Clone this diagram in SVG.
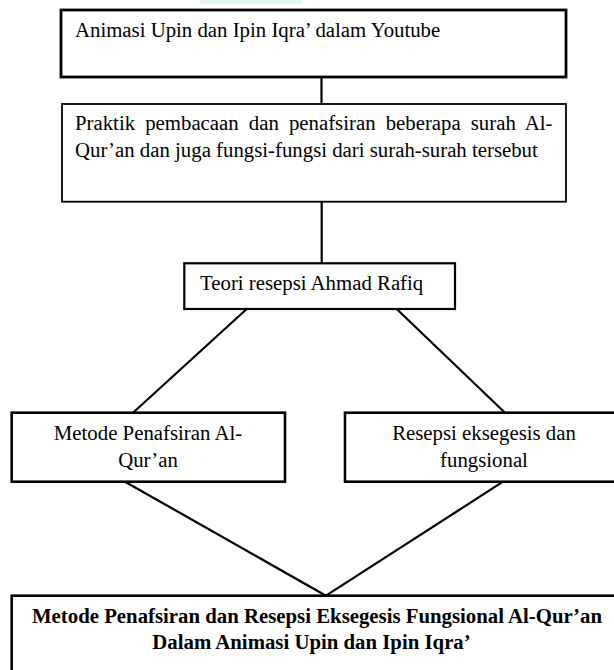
<svg xmlns="http://www.w3.org/2000/svg" width="614" height="670" viewBox="0 0 614 670">
<style>
.box{fill:#fff;stroke:#000;stroke-width:2.2}
.t{font-family:"Liberation Serif","Times New Roman",serif;font-size:20.8px;fill:#000}
.c{text-anchor:middle}
.b{font-weight:bold}
.conn line{stroke:#000;stroke-width:2.2;fill:none}
</style>
<rect x="200" y="0" width="103" height="4" fill="#e2f6f2"/>
<g class="conn" id="connectors">
<line x1="321.5" y1="77" x2="321.5" y2="104"/>
<line x1="321.7" y1="201.7" x2="321.7" y2="263.3"/>
<line x1="246.7" y1="309" x2="133" y2="412.7"/>
<line x1="396.7" y1="309" x2="505" y2="412.7"/>
<line x1="125" y1="481.7" x2="326" y2="595.7"/>
<line x1="503" y1="481.7" x2="326" y2="595.7"/>
</g>
<g id="node-animasi">
<rect class="box" x="61" y="10" width="505" height="67" style="stroke-width:2.8"/>
<text class="t" x="75" y="37">Animasi Upin dan Ipin Iqra’ dalam Youtube</text>
</g>
<g id="node-praktik">
<rect class="box" x="62" y="104" width="504" height="97.7" style="stroke-width:1.8"/>
<text class="t" x="75" y="130" word-spacing="4.9">Praktik pembacaan dan penafsiran beberapa surah Al-</text>
<text class="t" x="75" y="157">Qur’an dan juga fungsi-fungsi dari surah-surah tersebut</text>
</g>
<g id="node-teori">
<rect class="box" x="184.3" y="263.3" width="270.7" height="45.7"/>
<text class="t" x="200" y="290">Teori resepsi Ahmad Rafiq</text>
</g>
<g id="node-metode">
<rect class="box" x="11.7" y="412.7" width="273.3" height="69" style="stroke-width:2.6"/>
<text class="t c" x="148" y="440">Metode Penafsiran Al-</text>
<text class="t c" x="148" y="467">Qur’an</text>
</g>
<g id="node-resepsi">
<rect class="box" x="345" y="412.7" width="278" height="69" style="stroke-width:2.6"/>
<text class="t c" x="484" y="440">Resepsi eksegesis dan</text>
<text class="t c" x="484" y="467">fungsional</text>
</g>
<g id="node-hasil">
<rect class="box" x="11.7" y="595.7" width="604" height="90" style="stroke-width:2.6"/>
<text class="t b c" x="317" y="623">Metode Penafsiran dan Resepsi Eksegesis Fungsional Al-Qur’an</text>
<text class="t b c" x="311.5" y="649">Dalam Animasi Upin dan Ipin Iqra’</text>
</g>
</svg>
